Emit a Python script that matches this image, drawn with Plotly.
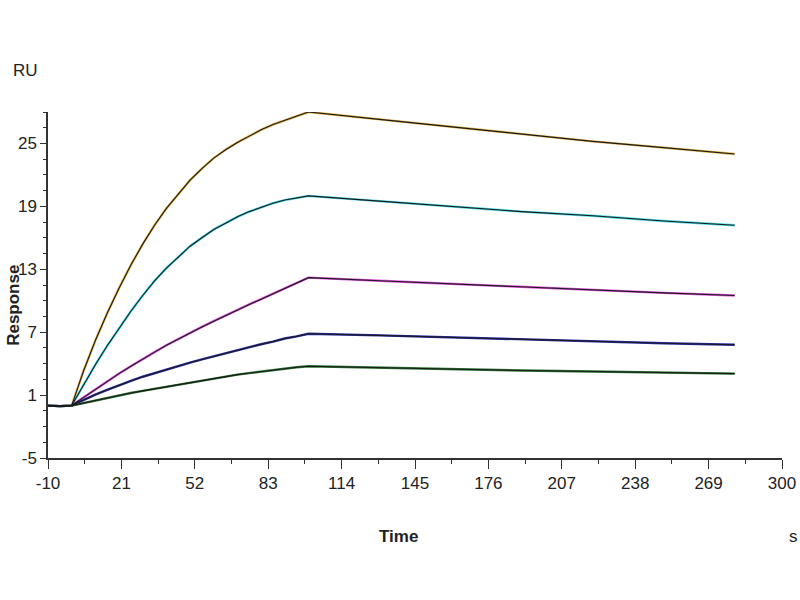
import plotly.graph_objects as go

# ---- data ----
base_t = [-10, -5, 0]
assoc_t = [0, 5, 10, 15, 20, 25, 30, 35, 40, 45, 50, 55, 60, 65, 70, 75, 80, 85, 90, 95, 100]
dissoc_t = [100, 130, 160, 190, 220, 250, 280]

base_v = [0.0, -0.05, 0.0]

assoc_1 = [0.0, 3.3, 6.2, 8.8, 11.2, 13.4, 15.4, 17.2, 18.8, 20.2, 21.5, 22.6,
           23.6, 24.4, 25.1, 25.7, 26.3, 26.8, 27.2, 27.6, 28.0]
assoc_2 = [0.0, 2.0, 3.9, 5.7, 7.4, 9.0, 10.5, 11.9, 13.1, 14.2, 15.2, 16.0,
           16.8, 17.4, 18.0, 18.5, 18.9, 19.3, 19.6, 19.8, 20.0]
assoc_3 = [0.0, 0.78, 1.55, 2.3, 3.05, 3.75, 4.45, 5.1, 5.75, 6.35, 6.95, 7.5,
           8.05, 8.6, 9.15, 9.65, 10.15, 10.65, 11.15, 11.7, 12.2]
assoc_4 = [0.0, 0.55, 1.05, 1.5, 1.95, 2.35, 2.75, 3.1, 3.45, 3.8, 4.1, 4.4,
           4.7, 5.0, 5.3, 5.55, 5.85, 6.1, 6.4, 6.6, 6.85]
assoc_5 = [0.0, 0.25, 0.5, 0.75, 0.95, 1.2, 1.4, 1.6, 1.8, 2.0, 2.2, 2.4,
           2.6, 2.75, 2.95, 3.1, 3.25, 3.4, 3.55, 3.65, 3.75]

dissoc_1 = [28.0, 27.3, 26.6, 25.9, 25.2, 24.6, 24.0]
dissoc_2 = [20.0, 19.5, 19.0, 18.5, 18.1, 17.6, 17.2]
dissoc_3 = [12.2, 11.9, 11.6, 11.3, 11.0, 10.75, 10.5]
dissoc_4 = [6.85, 6.7, 6.5, 6.35, 6.15, 5.95, 5.8]
dissoc_5 = [3.75, 3.6, 3.45, 3.35, 3.25, 3.15, 3.05]

series_colors = ["#e2b24c", "#48d8e6", "#e050e0", "#2a2aa8", "#2a7232"]

y_ticks = [-5, 1, 7, 13, 19, 25]
x_ticks = [-10, 21, 52, 83, 114, 145, 176, 207, 238, 269, 300]

assoc = [assoc_1, assoc_2, assoc_3, assoc_4, assoc_5]
dissoc = [dissoc_1, dissoc_2, dissoc_3, dissoc_4, dissoc_5]

fig = go.Figure()

# measured data (coloured), then fitted curves (black) on top
for layer in ("data", "fit"):
    for i in range(5):
        if layer == "data":
            line = dict(color=series_colors[i], width=2.4)
        else:
            line = dict(color="#1a1a1a", width=1.1)
        t_all = base_t + assoc_t[1:] + dissoc_t[1:]
        v_all = base_v + assoc[i][1:] + dissoc[i][1:]
        fig.add_trace(go.Scatter(x=t_all, y=v_all, mode="lines", line=line,
                                 showlegend=False, hoverinfo="skip"))

tick_font = dict(family="Liberation Sans, Arial", size=17, color="#222222")

fig.update_xaxes(range=[-10, 300], tickmode="array", tickvals=x_ticks,
                 ticktext=[str(v) for v in x_ticks], automargin=False,
                 showgrid=False, zeroline=False, showline=True,
                 linecolor="#333333", linewidth=1.5,
                 ticks="outside", ticklen=9, tickwidth=1.2, tickcolor="#333333",
                 minor=dict(dtick=15.5, tick0=-10, ticks="outside", ticklen=4,
                            tickwidth=1.2, tickcolor="#333333", showgrid=False),
                 tickfont=tick_font)
fig.update_yaxes(range=[-5, 28], tickmode="array", tickvals=y_ticks,
                 ticktext=[str(v) for v in y_ticks], automargin=False,
                 showgrid=False, zeroline=False, showline=True,
                 linecolor="#333333", linewidth=1.5,
                 ticks="outside", ticklen=6, tickwidth=1.2, tickcolor="#333333",
                 minor=dict(dtick=1.5, tick0=-5, ticks="outside", ticklen=3,
                            tickwidth=1.2, tickcolor="#333333", showgrid=False),
                 tickfont=tick_font)

label_font = dict(family="Liberation Sans, Arial", size=17, color="#222222")

fig.update_layout(
    width=800, height=600,
    margin=dict(l=48, r=18, t=112, b=142),
    paper_bgcolor="white", plot_bgcolor="white",
    annotations=[
        dict(text="RU", xref="paper", yref="paper", x=-0.031, y=1.121,
             xanchor="center", yanchor="middle", showarrow=False, font=label_font),
        dict(text="<b>Response</b>", xref="paper", yref="paper", x=-0.048, y=0.442,
             xanchor="center", yanchor="middle", showarrow=False, textangle=-90,
             font=dict(family="Liberation Sans, Arial", size=17, color="#222222")),
        dict(text="<b>Time</b>", xref="paper", yref="paper", x=0.477, y=-0.228,
             xanchor="center", yanchor="middle", showarrow=False, font=label_font),
        dict(text="s", xref="paper", yref="paper", x=1.015, y=-0.228,
             xanchor="center", yanchor="middle", showarrow=False, font=label_font),
    ],
)

fig.write_html("out.html", config={"displayModeBar": False},
               post_script="document.body.style.margin='0px';document.body.style.overflow='hidden';")
